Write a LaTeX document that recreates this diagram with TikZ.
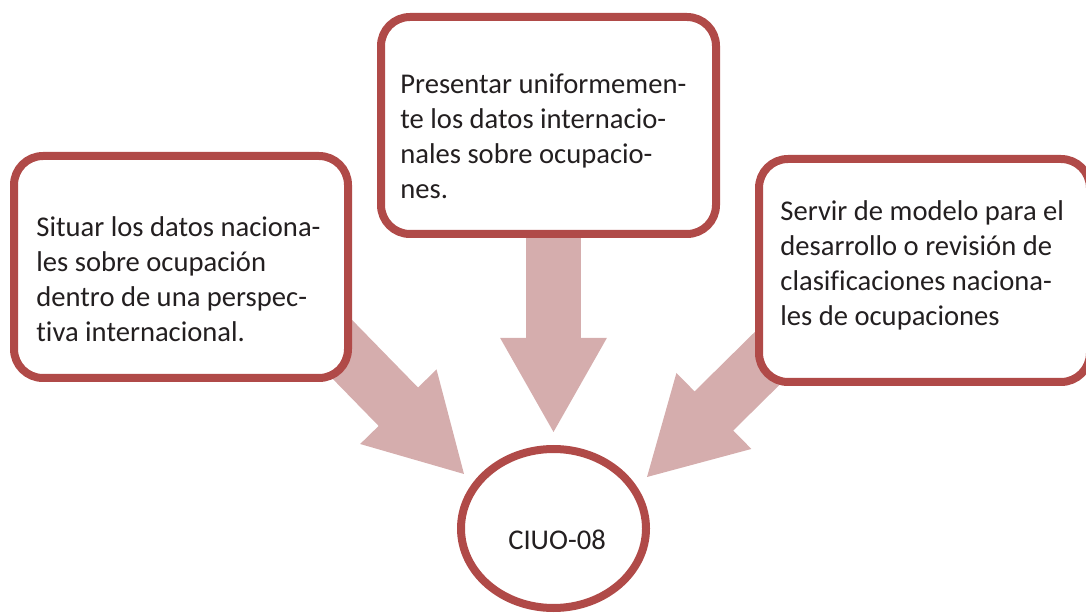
\documentclass[tikz,border=0pt]{standalone}
\usepackage{fontspec}
\setmainfont{Carlito}[Ligatures=NoCommon]
\usepackage{tikz}
\usetikzlibrary{arrows.meta,shapes.geometric,backgrounds}
\definecolor{borde}{HTML}{B04A48}
\definecolor{rosa}{HTML}{D5ADAD}
\definecolor{tinta}{HTML}{231F20}
\tikzset{
    caja/.style = {draw=borde, fill=white, line width=4pt, rectangle, rounded corners=14.5pt},
    texto/.style = {text=tinta, font=\fontsize{14.3}{17.6}\selectfont, align=left, inner sep=0pt},
    flecha/.style = {draw=rosa, line width=27.5pt, -{Triangle[width=53pt, length=47pt, line width=1.5pt, fill=rosa]}},
}

\begin{document}
\begin{tikzpicture}[x=0.5pt, y=-0.5pt]
\useasboundingbox (0,0) rectangle (1086,614);
\node [caja, minimum width=167pt, minimum height=111pt] (izq) at (181,267) {};
\node [caja, minimum width=167.5pt, minimum height=108.5pt] (arriba) at (548.5,125.5) {};
\node [caja, minimum width=165.5pt, minimum height=111.5pt] (der) at (924.5,270.5) {};
\node [draw=borde, fill=white, line width=4pt, ellipse, inner sep=0pt, minimum width=92.5pt, minimum height=79.5pt] (ciuo) at (553.5,528.5) {};
\node [texto, below right] at ([shift={(26,64)}]izq.north west) {Situar los datos naciona-\\les sobre ocupación\\dentro de una perspec-\\tiva internacional.};
\node [texto, below right] at ([shift={(23,60)}]arriba.north west) {Presentar uniformemen-\\te los datos internacio-\\nales sobre ocupacio-\\nes.};
\node [texto, below right] at ([shift={(25,45)}]der.north west) {Servir de modelo para el\\desarrollo o revisión de\\clasificaciones naciona-\\les de ocupaciones};
\node [texto] at ([shift={(3.5,11.5)}]ciuo.center) {CIUO-08};
% arrow tips stop short of the circle
\coordinate (haciaIzq) at (464,474);
\coordinate (haciaDer) at (647,477);
\begin{scope}[on background layer]
\draw [flecha] ([shift={(120,40)}]izq.center) -- (haciaIzq);
\draw [flecha] (arriba.center -| ciuo.north) -- ([yshift=6.5pt]ciuo.north);
\draw [flecha] ([shift={(-124,55)}]der.center) -- (haciaDer);
\end{scope}
\end{tikzpicture}
\end{document}
